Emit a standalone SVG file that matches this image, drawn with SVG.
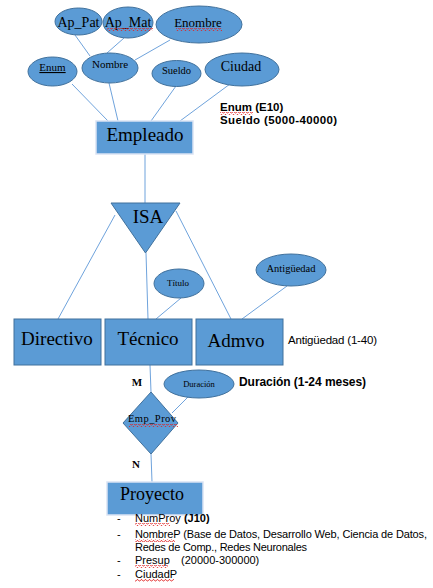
<svg xmlns="http://www.w3.org/2000/svg" width="433" height="588" viewBox="0 0 433 588">
<style>
.e{fill:#5B9BD5;stroke:#41719C;stroke-width:1}
.r{fill:#5B9BD5;stroke:#41719C;stroke-width:1}
.rl{fill:#5B9BD5;stroke:#DAE3F3;stroke-width:1.5}
.ln{stroke:#6FA3DC;stroke-width:1;fill:none}
.t{font-family:"Liberation Serif","Times New Roman",serif;fill:#000;text-anchor:middle}
.s{font-family:"Liberation Sans",Arial,sans-serif;fill:#000}
.b{font-weight:bold}
.sq{fill:url(#wave)}
</style>
<defs>
<pattern id="wave" width="4" height="3" patternUnits="userSpaceOnUse">
<path d="M0,2 L1,0.6 L2,0.6 L3,2 L4,2" stroke="#E02020" stroke-width="0.8" fill="none"/>
</pattern>
</defs>
<g id="connectors">
<line class="ln" x1="75" y1="35" x2="90" y2="56"/>
<line class="ln" x1="124" y1="38" x2="107" y2="53"/>
<line class="ln" x1="170" y1="40" x2="135" y2="60"/>
<line class="ln" x1="72" y1="84" x2="108" y2="121"/>
<line class="ln" x1="109" y1="83" x2="118" y2="121"/>
<line class="ln" x1="176" y1="86" x2="151" y2="121"/>
<line class="ln" x1="230" y1="84" x2="180" y2="121"/>
<line class="ln" x1="145" y1="154" x2="145" y2="203"/>
<line class="ln" x1="115" y1="215" x2="58" y2="319"/>
<line class="ln" x1="146" y1="253" x2="148" y2="319"/>
<line class="ln" x1="176" y1="211" x2="231" y2="319"/>
<line class="ln" x1="181" y1="298" x2="156" y2="319"/>
<line class="ln" x1="287" y1="286" x2="242" y2="319"/>
<line class="ln" x1="150" y1="365" x2="151" y2="392"/>
<line class="ln" x1="188" y1="397" x2="172" y2="413"/>
<line class="ln" x1="151" y1="454" x2="152" y2="482"/>
</g>
<g id="ap_pat"><ellipse class="e" cx="78.5" cy="21.5" rx="23.5" ry="13.5"/><text class="t" x="78.5" y="27" font-size="14">Ap_Pat</text></g>
<g id="ap_mat"><ellipse class="e" cx="128" cy="22.5" rx="25" ry="15.5"/><text class="t" x="128" y="27" font-size="14">Ap_Mat</text><rect class="sq" x="107" y="28" width="46" height="3"/></g>
<g id="enombre"><ellipse class="e" cx="199" cy="24.5" rx="43" ry="18.5"/><text class="t" x="198" y="27" font-size="13">Enombre</text><rect class="sq" x="176" y="28" width="46" height="3"/></g>
<g id="enum"><ellipse class="e" cx="52.5" cy="71.5" rx="24.5" ry="14.5"/><text class="t" x="52.5" y="71" font-size="11" text-decoration="underline">Enum</text></g>
<g id="nombre"><ellipse class="e" cx="110" cy="68" rx="28" ry="15"/><text class="t" x="110" y="68" font-size="11">Nombre</text></g>
<g id="sueldo"><ellipse class="e" cx="176.5" cy="73.5" rx="24.5" ry="13"/><text class="t" x="176.5" y="74" font-size="10.5">Sueldo</text></g>
<g id="ciudad"><ellipse class="e" cx="242" cy="69.5" rx="37" ry="16.5"/><text class="t" x="241" y="71" font-size="14">Ciudad</text></g>
<g id="empleado"><rect class="rl" x="96" y="121" width="97" height="33"/><text class="t" x="145" y="141" font-size="19">Empleado</text></g>
<g id="notes1">
<text class="s b" x="220" y="111" font-size="11.5">Enum (E10)</text>
<rect class="sq" x="220" y="112" width="33" height="3"/>
<text class="s b" x="220" y="124" font-size="11.5" textLength="117">Sueldo (5000-40000)</text>
</g>
<g id="isa"><polygon points="111,203 180,203 145.5,253" fill="#5B9BD5" stroke="#41719C" stroke-width="1"/><text class="t" x="148" y="223" font-size="19">ISA</text></g>
<g id="titulo"><ellipse class="e" cx="179" cy="283.5" rx="25" ry="14.5"/><text class="t" x="178" y="286" font-size="9">Título</text></g>
<g id="antiguedad"><ellipse class="e" cx="291" cy="270" rx="35" ry="16"/><text class="t" x="291" y="272" font-size="10.5">Antigüedad</text></g>
<g id="directivo"><rect class="r" x="14" y="319" width="87" height="46"/><text class="t" x="57" y="345" font-size="19">Directivo</text></g>
<g id="tecnico"><rect class="r" x="105" y="319" width="87" height="46"/><text class="t" x="148" y="345" font-size="19">Técnico</text></g>
<g id="admvo"><rect class="r" x="196" y="319" width="87" height="46"/><text class="t" x="236" y="347" font-size="19">Admvo</text></g>
<text class="s" x="288" y="344" font-size="11.5" textLength="89">Antigüedad (1-40)</text>
<text class="t b" x="137" y="386" font-size="11">M</text>
<g id="duracion"><ellipse class="e" cx="199" cy="384" rx="35" ry="14"/><text class="t" x="199" y="387" font-size="8.5">Duración</text></g>
<text class="s b" x="239" y="386" font-size="12" textLength="127">Duración (1-24 meses)</text>
<g id="emp_prov"><polygon points="151,392 178,423 151,454 123,423" fill="#5B9BD5" stroke="#41719C" stroke-width="1"/><text class="t" x="152" y="422" font-size="10.5" textLength="48">Emp_Prov</text><rect class="sq" x="129" y="424" width="49" height="3"/></g>
<text class="t b" x="136" y="468" font-size="11">N</text>
<g id="proyecto"><rect class="rl" x="107" y="482" width="96" height="33"/><text class="t" x="152" y="500" font-size="18">Proyecto</text></g>
<g id="list" font-size="11">
<text class="s" x="117" y="522">-</text>
<text class="s" x="135" y="522">NumProy  <tspan class="b">(J10)</tspan></text>
<rect class="sq" x="135" y="523" width="35" height="3"/>
<text class="s" x="117" y="538">-</text>
<text class="s" x="135" y="538" textLength="292">NombreP (Base de Datos, Desarrollo Web, Ciencia de Datos,</text>
<rect class="sq" x="135" y="539" width="40" height="3"/>
<text class="s" x="135" y="551" textLength="172">Redes de Comp., Redes Neuronales</text>
<text class="s" x="117" y="564">-</text>
<text class="s" x="135" y="564">Presup</text>
<text class="s" x="181" y="564">(20000-300000)</text>
<rect class="sq" x="135" y="565" width="33" height="3"/>
<text class="s" x="117" y="578">-</text>
<text class="s" x="135" y="578">CiudadP</text>
<rect class="sq" x="135" y="579" width="39" height="3"/>
</g>
</svg>
